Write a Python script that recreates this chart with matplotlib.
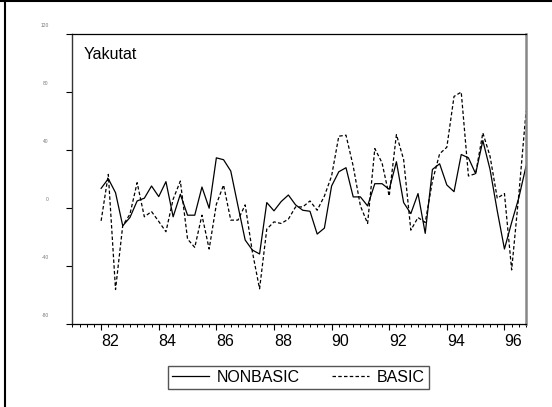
import numpy as np
import matplotlib
matplotlib.use("Agg")
import matplotlib.pyplot as plt
from matplotlib.lines import Line2D
from matplotlib.transforms import ScaledTranslation

plt.rcParams['font.family'] = ['Liberation Sans', 'DejaVu Sans']

# quarterly series, 1982Q1 .. 1996Q4
start_year = 1982
nonbasic = [13.7, 20.3, 10.7, -12.1, -6.4, 5.0, 6.9, 15.3, 8.0, 18.3,
            -5.9, 9.6, -4.8, -4.8, 14.6, 0.0, 34.7, 33.4, 25.6, 1.6,
            -21.9, -28.8, -31.5, 3.9, -1.8, 4.6, 9.1, 2.3, -1.4, -2.1,
            -17.8, -13.7, 15.3, 25.1, 27.9, 7.8, 7.8, 1.6, 16.9, 16.9,
            13.0, 32.0, 3.9, -3.7, 10.1, -17.3, 26.7, 30.6, 16.0, 11.4,
            37.0, 34.7, 23.8, 46.6, 26.7, -1.8, -28.1, -9.8, 7.3, 29.0]
basic = [-8.7, 23.3, -56.0, -12.0, -4.1, 17.6, -5.9, -2.3, -9.1, -16.2,
         6.2, 18.7, -21.2, -27.0, -4.8, -28.1, 2.7, 16.0, -8.2, -8.2,
         2.3, -30.0, -55.5, -14.4, -9.4, -10.5, -7.5, 0.9, 0.9, 5.0,
         -1.4, 8.4, 22.2, 49.6, 50.3, 29.0, 1.6, -10.5, 41.1, 31.3,
         8.4, 50.7, 33.6, -15.1, -6.4, -9.8, 18.7, 37.5, 42.0, 77.0,
         80.0, 22.2, 23.8, 51.9, 35.8, 6.9, 10.1, -42.5, 9.6, 66.7]
series_names = ['NONBASIC', 'BASIC']
y_ticks = [-80, -40, 0, 40, 80, 120]
year_ticks = list(range(1982, 1997, 2))
year_labels = [str(y)[2:] for y in year_ticks]
title = 'Yakutat'

t = start_year + np.arange(len(nonbasic)) / 4.0

fig = plt.figure(figsize=(5.52, 4.07), dpi=100)
ax = fig.add_axes([0.131, 0.203, 0.822, 0.7135])

l1, = ax.plot(t, nonbasic, color='black', lw=0.9)
l2, = ax.plot(t, basic, color='black', lw=0.9, linestyle=(0, (2.8, 1.8)))

ax.set_xlim(1981, 1996.75)
ax.set_ylim(-80, 120)

# y axis: tiny grey labels sitting above their ticks
ax.set_yticks(y_ticks)
ax.set_yticklabels([str(v) for v in y_ticks], fontsize=3.5, color='#777777')
ax.tick_params(axis='y', direction='out', length=4, width=0.8, pad=13)
for lab in ax.get_yticklabels():
    lab.set_transform(lab.get_transform() + ScaledTranslation(0, 0.09, fig.dpi_scale_trans))

# x axis: quarterly minor ticks, label each second year
ax.set_xticks(year_ticks)
ax.set_xticklabels(year_labels, fontsize=11.5)
ax.set_xticks(np.arange(1981, 1996.8, 0.25), minor=True)
ax.tick_params(axis='x', which='major', direction='out', length=4, width=0.8, pad=3)
ax.tick_params(axis='x', which='minor', direction='out', length=2.5, width=0.7)
for lab in ax.get_xticklabels():
    lab.set_transform(lab.get_transform() + ScaledTranslation(0.09, 0, fig.dpi_scale_trans))

ax.spines['top'].set_linewidth(0.9)
ax.spines['bottom'].set_linewidth(0.9)
ax.spines['left'].set_color('#333333')
ax.spines['left'].set_linewidth(1.0)
ax.spines['right'].set_color('#888888')
ax.spines['right'].set_linewidth(1.8)

ax.text(0.024, 0.955, title, transform=ax.transAxes, fontsize=11.5, va='top', ha='left')

leg = fig.legend([l1, l2], series_names, loc='center', bbox_to_anchor=(0.5404, 0.0733),
                 ncol=2, fontsize=11.5, frameon=True, fancybox=False, framealpha=1,
                 handlelength=2.3, handletextpad=0.5, columnspacing=2.0, borderpad=0.25)
leg.get_frame().set_edgecolor('#555555')
leg.get_frame().set_linewidth(1.0)

# outer frame pieces (left and top edge)
fig.add_artist(Line2D([0.009, 0.009], [0, 1], transform=fig.transFigure, color='black', lw=1.5))
fig.add_artist(Line2D([0, 1], [0.998, 0.998], transform=fig.transFigure, color='black', lw=1.5))

fig.savefig('out.png', dpi=100)
